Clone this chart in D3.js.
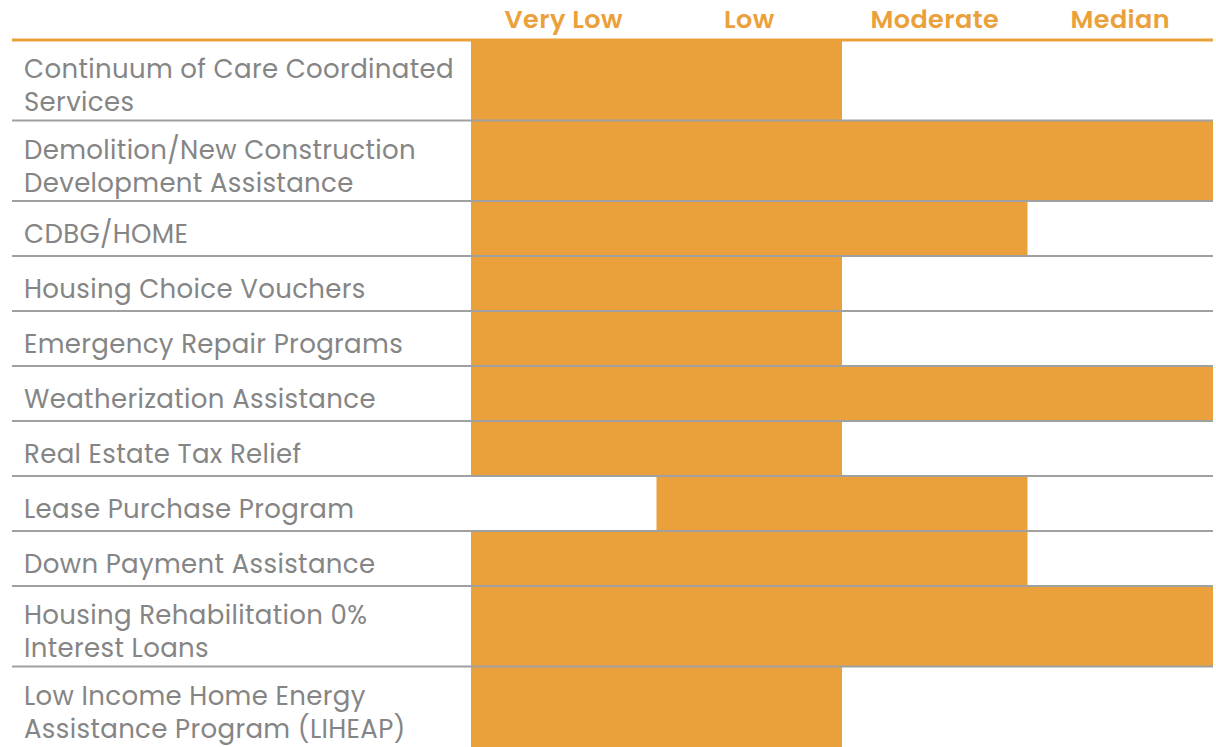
<!DOCTYPE html>
<html>
<head>
<meta charset="utf-8">
<script src="https://cdn.jsdelivr.net/npm/d3@7"></script>
<style>
  html, body { margin: 0; padding: 0; background: #ffffff; }
  svg { display: block; }
</style>
</head>
<body>
<svg id="chart" width="1216" height="747"></svg>
<script>
// ---- data ----
const levels = ["Very Low", "Low", "Moderate", "Median"];
const programs = [
  ["Continuum of Care Coordinated", "Services"],
  ["Demolition/New Construction", "Development Assistance"],
  ["CDBG/HOME"],
  ["Housing Choice Vouchers"],
  ["Emergency Repair Programs"],
  ["Weatherization Assistance"],
  ["Real Estate Tax Relief"],
  ["Lease Purchase Program"],
  ["Down Payment Assistance"],
  ["Housing Rehabilitation 0%", "Interest Loans"],
  ["Low Income Home Energy", "Assistance Program (LIHEAP)"]
];
const startLevel = ["Very Low", "Very Low", "Very Low", "Very Low", "Very Low", "Very Low", "Very Low", "Low", "Very Low", "Very Low", "Very Low"];
const endLevel   = ["Low", "Median", "Moderate", "Low", "Low", "Median", "Low", "Moderate", "Moderate", "Median", "Low"];

// ---- layout ----
const W = 1216, H = 747;
const left = 12, right = 1213, barLeft = 471;
const headerLineY = 40;
const rowH1 = 55, rowH2 = 80.5;
const orange = "#EBA13B";
const grey = "#a0a0a0";
const textGrey = "#858585";
const font = "Poppins, 'Open Sans', sans-serif";

const svg = d3.select("#chart");

const x = d3.scaleBand().domain(levels).range([barLeft, right]).padding(0);

const rows = programs.map((lines, i) => ({
  lines, start: startLevel[i], end: endLevel[i],
  h: lines.length > 1 ? rowH2 : rowH1
}));
let acc = 0;
rows.forEach(r => { r.u0 = acc; acc += r.h; r.u1 = acc; });
const y = d3.scaleLinear().domain([0, acc]).range([headerLineY, headerLineY + acc]);

// bars
svg.append("g").selectAll("rect").data(rows).join("rect")
  .attr("x", d => x(d.start))
  .attr("width", d => x(d.end) + x.bandwidth() - x(d.start))
  .attr("y", d => y(d.u0))
  .attr("height", d => y(d.u1) - y(d.u0))
  .attr("fill", orange);

// row separator lines
svg.append("g").selectAll("line").data(rows.slice(0, -1)).join("line")
  .attr("x1", left).attr("x2", right)
  .attr("y1", d => y(d.u1)).attr("y2", d => y(d.u1))
  .attr("stroke", grey).attr("stroke-width", 2);

// header line
svg.append("line")
  .attr("x1", left).attr("x2", right)
  .attr("y1", headerLineY).attr("y2", headerLineY)
  .attr("stroke", orange).attr("stroke-width", 3);

// header labels
svg.append("g").selectAll("text").data(levels).join("text")
  .attr("x", d => x(d) + x.bandwidth() / 2)
  .attr("y", 28)
  .attr("text-anchor", "middle")
  .attr("font-family", font)
  .attr("font-weight", 600)
  .attr("font-size", 25.5)
  .attr("letter-spacing", 0.4)
  .attr("fill", orange)
  .text(d => d);

// row labels
const lab = svg.append("g").selectAll("text").data(rows).join("text")
  .attr("font-family", font)
  .attr("font-size", 26)
  .attr("letter-spacing", 0.35)
  .attr("fill", textGrey)
  .attr("x", 24);
lab.each(function(d) {
  const mid = (y(d.u0) + y(d.u1)) / 2;
  const t = d3.select(this);
  if (d.lines.length === 1) {
    t.append("tspan").attr("x", 24).attr("y", mid + 14.5).text(d.lines[0]);
  } else {
    t.append("tspan").attr("x", 24).attr("y", mid - 2).text(d.lines[0]);
    t.append("tspan").attr("x", 24).attr("y", mid + 31).text(d.lines[1]);
  }
});
</script>
</body>
</html>
